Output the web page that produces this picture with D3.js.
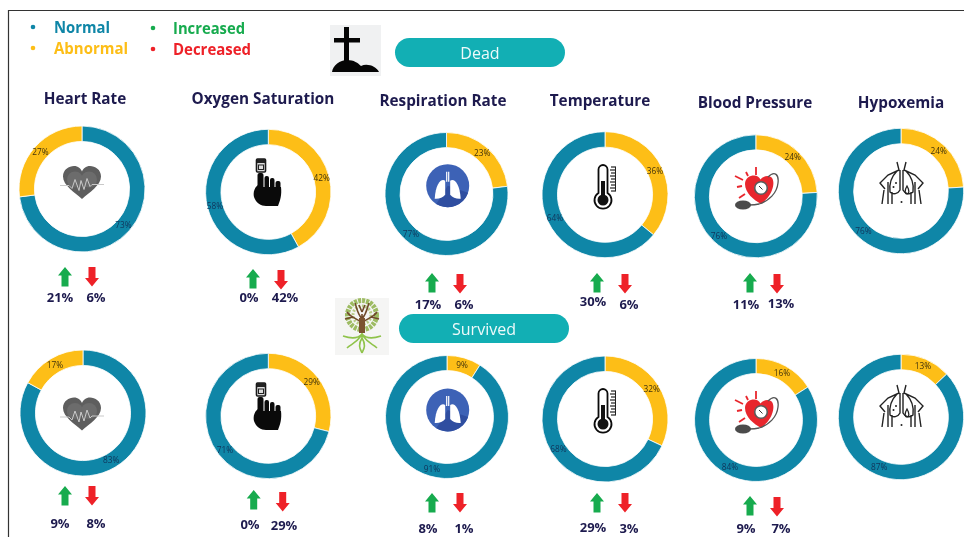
<!DOCTYPE html>
<html><head><meta charset="utf-8">
<script src="https://cdn.jsdelivr.net/npm/d3@7"></script>
<style>
html,body{margin:0;padding:0;background:#fff;overflow:hidden}
svg{display:block;filter:blur(0.35px)}
text{font-family:"Open Sans","Noto Sans",sans-serif}
</style></head><body>
<script>
// ---------- data ----------
const metrics = ["Heart Rate","Oxygen Saturation","Respiration Rate","Temperature","Blood Pressure","Hypoxemia"];
const deadNormal = [73,58,77,64,76,76];
const deadAbnormal = [27,42,23,36,24,24];
const survivedNormal = [83,71,91,68,84,87];
const survivedAbnormal = [17,29,9,32,16,13];
const deadIncreased = [21,0,17,30,11];
const deadDecreased = [6,42,6,6,13];
const survivedIncreased = [9,0,8,29,9];
const survivedDecreased = [8,29,1,3,7];
const legendA = ["Normal","Abnormal"];
const legendB = ["Increased","Decreased"];
const groups = ["Dead","Survived"];

// ---------- layout (separate from the values) ----------
const W=964,H=537;
const colors={normal:"#0f86a7",abnormal:"#fdbe17",inc:"#17ab4e",dec:"#ee2128",navy:"#1d1a4e",pill:"#12afb4"};
const titleX=[85,263,443,600,755,901], titleY=[99,99,101,101,103,103];
const ringCx=[[82,268.3,446.5,605,755.8,901],[83,268.3,447,605,756,901]];
const ringCy=[[189,192,194,194.7,196.3,191],[413,416,417,419,420,417]];
const ringR=[63,62.7,61.5,63,61.5,62.7];
const upX=[[65,253,432,597,750],[65,253.7,432,597,750]];
const downX=[[92,281,460,625,777],[92,282.7,460,625,777]];
const upY=[[267,269,273,273,273],[486,490,493,493,496]];
const downY=[[267,270,274,274,274],[486,492,493,493,497]];
const incX=[[60,249,428,593,746],[60,250,428,593,746]];
const decX=[[96,285,464,629,781],[96,284,464,629,781]];
const incY=[[297,297,304,301,304],[523,524,528.5,527,528.5]];
const decY=[[297,297,304,304,303],[523,525,528.5,528.5,528.5]];
const iconY=[[182.5,159,185.7,165,167,162],[414,383,410,389,391,385]];
const iconX=[82,253,447.7,595,735,880];

const svg=d3.select("body").append("svg").attr("width",W).attr("height",H);
svg.append("rect").attr("width",W).attr("height",H).attr("fill","#fff");
svg.append("path").attr("d",d3.line()([[W,10.5],[8.5,10.5],[8.5,H]])).attr("fill","none").attr("stroke","#333").attr("stroke-width",1.2);

// ---------- legend ----------
const legendWidths={Normal:56,Abnormal:74,Increased:72,Decreased:78};
function legend(items,xDot,xText,ys,cols){
  items.forEach((t,i)=>{
    svg.append("circle").attr("cx",xDot).attr("cy",ys[i]).attr("r",2.3).attr("fill",cols[i]);
    svg.append("text").attr("x",xText).attr("y",ys[i]).attr("dy","0.35em").attr("font-size",16).attr("font-weight",700)
      .attr("textLength",legendWidths[t]).attr("lengthAdjust","spacingAndGlyphs")
      .attr("fill",cols[i]).text(t);
  });
}
legend(legendA,33,54,[27,48],[colors.normal,colors.abnormal]);
legend(legendB,153,173,[28,49],[colors.inc,colors.dec]);

// ---------- group pills ----------
[[395,38],[399,314]].forEach((p,i)=>{
  svg.append("rect").attr("x",p[0]).attr("y",p[1]).attr("width",170).attr("height",29).attr("rx",14.5).attr("fill",colors.pill);
  svg.append("text").attr("x",p[0]+85).attr("y",p[1]+15).attr("dy","0.35em").attr("text-anchor","middle")
    .attr("font-size",16).attr("fill","#eefafa").text(groups[i]);
});

// ---------- titles ----------
metrics.forEach((m,i)=>{
  svg.append("text").attr("x",titleX[i]).attr("y",titleY[i]).attr("dy","0.35em").attr("text-anchor","middle")
    .attr("font-size",15.3).attr("font-weight",700).attr("fill",colors.navy).text(m);
});

// ---------- donuts ----------
const pie=d3.pie().sort(null).value(d=>d.v);
function donut(row,normal,abnormal){
  metrics.forEach((m,i)=>{
    const n={k:"normal",v:normal[i]},a={k:"abnormal",v:abnormal[i]};
    const parts=i===0?[n,a]:[a,n];
    const R=ringR[i];
    const arc=d3.arc().innerRadius(R*0.755).outerRadius(R);
    const g=svg.append("g").attr("transform",`translate(${ringCx[row][i]},${ringCy[row][i]})`);
    g.selectAll("path").data(pie(parts)).join("path").attr("d",arc)
      .attr("fill",d=>colors[d.data.k]).attr("stroke","#fff").attr("stroke-width",0.8);
    g.selectAll("text").data(pie(parts)).join("text")
      .attr("transform",d=>`translate(${arc.centroid(d)})`).attr("text-anchor","middle").attr("dy","0.35em")
      .attr("font-size",8.3).attr("fill",d=>d.data.k==="normal"?"#10345a":"#40320c").text(d=>d.data.v+"%");
  });
}
donut(0,deadNormal,deadAbnormal);
donut(1,survivedNormal,survivedAbnormal);

// ---------- arrows and their labels ----------
const arrowUp="M0,0 L7,8.5 L3.5,8.5 L3.5,19.5 L-3.5,19.5 L-3.5,8.5 L-7,8.5 Z";
const arrowDown="M-3.5,0 L3.5,0 L3.5,11 L7,11 L0,19.5 L-7,11 L-3.5,11 Z";
function arrows(row,inc,dec){
  inc.forEach((v,i)=>{
    svg.append("path").attr("d",arrowUp).attr("transform",`translate(${upX[row][i]},${upY[row][i]})`).attr("fill",colors.inc);
    svg.append("path").attr("d",arrowDown).attr("transform",`translate(${downX[row][i]},${downY[row][i]})`).attr("fill",colors.dec);
    svg.append("text").attr("x",incX[row][i]).attr("y",incY[row][i]).attr("dy","0.35em").attr("text-anchor","middle")
      .attr("font-size",13).attr("font-weight",700).attr("fill",colors.navy).text(v+"%");
    svg.append("text").attr("x",decX[row][i]).attr("y",decY[row][i]).attr("dy","0.35em").attr("text-anchor","middle")
      .attr("font-size",13).attr("font-weight",700).attr("fill",colors.navy).text(dec[i]+"%");
  });
}
arrows(0,deadIncreased,deadDecreased);
arrows(1,survivedIncreased,survivedDecreased);

// ---------- pictograms ----------
function heart(g){
  g.append("path").attr("d","M0,16.5 C-7,10 -19,3 -19,-6 C-19,-13 -13,-16.5 -8,-16.5 C-4,-16.5 -1,-14 0,-11 C1,-14 4,-16.5 8,-16.5 C13,-16.5 19,-13 19,-6 C19,3 7,10 0,16.5Z").attr("fill","#5e5e5e");
  g.append("circle").attr("cx",-7).attr("cy",-3).attr("r",8).attr("fill","#6c6c6c");
  g.append("circle").attr("cx",7).attr("cy",-3).attr("r",8).attr("fill","#6c6c6c");
  g.append("path").attr("d","M-22,3 H-13 L-10,6 L-7,-3 L-3,8 L-1,-2 L2,7 L5,-4 L8,4 L10,2 H22").attr("fill","none").attr("stroke","#c9c9c9").attr("stroke-width",1);
}
function hand(g){
  g.append("rect").attr("x",3.5).attr("y",0).attr("width",9).attr("height",13).attr("rx",1).attr("fill","#ddd").attr("stroke","#1a1a1a").attr("stroke-width",1.6);
  g.append("rect").attr("x",4).attr("y",0).attr("width",8).attr("height",4).attr("fill","#222");
  g.append("rect").attr("x",5.5).attr("y",6).attr("width",5).attr("height",4.5).attr("fill","none").attr("stroke","#222");
  [[4.5,14,6,22],[11.5,17,4.5,18],[17,19,4.5,16],[22.5,22,5,13]].forEach(r=>{
    g.append("rect").attr("x",r[0]).attr("y",r[1]).attr("width",r[2]).attr("height",r[3]).attr("rx",2).attr("fill","#0a0a0a");
  });
  g.append("path").attr("d","M5,26 C1,29 0,34 1,38 C3,44 8,47 13,47 L25,47 C27,42 29,36 28,28 L5,28Z").attr("fill","#0a0a0a");
}
function lungs(g){
  g.append("circle").attr("r",21.5).attr("fill","#3d62b6");
  g.append("path").attr("d",d3.arc().innerRadius(0).outerRadius(21.5)({startAngle:1.9,endAngle:3.7})).attr("fill","#2f4ea0");
  const L="M-2.5,-5 C-6,-8 -12,-3 -13,13 C-9,13.5 -5,12 -2.5,9 Z";
  g.append("path").attr("d",L).attr("fill","#fff");
  g.append("path").attr("d",L).attr("transform","scale(-1,1)").attr("fill","#fff");
  g.append("path").attr("d","M-1,-14 V-4 M1,-14 V-4").attr("stroke","#fff").attr("stroke-width",1.2);
}
function thermo(g){
  g.append("path").attr("d","M3.5,4.5 A4.5,4.5 0 0 1 12.5,4.5 V28 A8.5,8.5 0 1 1 3.5,28 Z").attr("fill","#fff").attr("stroke","#0b0b0b").attr("stroke-width",1.8);
  g.append("rect").attr("x",6).attr("y",16).attr("width",4).attr("height",18).attr("fill","#111");
  g.append("circle").attr("cx",8).attr("cy",35).attr("r",5.5).attr("fill","#111");
  d3.range(9).forEach(k=>g.append("line").attr("x1",k%2?15:16).attr("x2",21).attr("y1",2+k*3).attr("y2",2+k*3).attr("stroke","#222").attr("stroke-width",1.2));
  g.append("line").attr("x1",20.5).attr("x2",20.5).attr("y1",2).attr("y2",26).attr("stroke","#222").attr("stroke-width",1);
}
function bp(g){
  [[0,9,8,13],[11,5,13,9],[21,0,21,8],[2,20,7,19],[4,31,10,27]].forEach(l=>{
    g.append("line").attr("x1",l[0]).attr("y1",l[1]).attr("x2",l[2]).attr("y2",l[3]).attr("stroke","#e8262d").attr("stroke-width",1.8);
  });
  g.append("path").attr("d","M26,37 C19,33 10,26 10,17 C10,11 15,8.5 19,8.5 C22,8.5 24,10 25.5,12.5 C28,9 33,8 36,10 C39,12 39,18 37,23 C35,29 30,34 26,37Z").attr("fill","#e8262d");
  g.append("path").attr("d","M33,10 C40,3 44,8 43,16 C42,26 34,34 24,37 C20,38 17,38 14,38").attr("fill","none").attr("stroke","#555").attr("stroke-width",1.3);
  g.append("circle").attr("cx",26).attr("cy",21).attr("r",6.3).attr("fill","#fff").attr("stroke","#5a5a5a").attr("stroke-width",1.6);
  g.append("line").attr("x1",24).attr("y1",19).attr("x2",27.5).attr("y2",22.5).attr("stroke","#333").attr("stroke-width",1);
  g.append("ellipse").attr("cx",8).attr("cy",38).attr("rx",8).attr("ry",4.5).attr("fill","#4b4b4b");
}
function hypox(g){
  const side="M17,0 L19,8 L8,13 L0,21 L5,27 M8,20 V42 M4,28 L2,42 M12,30 V42 M17,9 C12,14 9,22 10,30 C13,33 18,32 20,28 V8";
  g.append("path").attr("d",side).attr("fill","none").attr("stroke","#222").attr("stroke-width",1.4);
  g.append("path").attr("d",side).attr("transform","translate(43,0) scale(-1,1)").attr("fill","none").attr("stroke","#222").attr("stroke-width",1.4);
  g.append("circle").attr("cx",16).attr("cy",21).attr("r",1).attr("fill","#222");
  g.append("circle").attr("cx",13.5).attr("cy",25).attr("r",1).attr("fill","#222");
  g.append("path").attr("d","M27,24 C24,29 25,32 27,32 C29,32 30,29 27,24Z").attr("fill","none").attr("stroke","#222").attr("stroke-width",1.3);
  g.append("circle").attr("cx",21.5).attr("cy",40).attr("r",1).attr("fill","#222");
}
const iconFns=[heart,hand,lungs,thermo,bp,hypox];
[0,1].forEach(row=>iconFns.forEach((fn,i)=>{
  fn(svg.append("g").attr("transform",`translate(${iconX[i]},${iconY[row][i]})`));
}));

// cross on a mound
const cross=svg.append("g").attr("transform","translate(330,25)");
cross.append("rect").attr("width",51).attr("height",51).attr("fill","#f0f1f2");
cross.append("path").attr("d","M14,2 h5 v11 h11 v4.5 h-11 v22 h-5 v-22 h-10 v-4.5 h10 Z").attr("fill","#050505");
cross.append("path").attr("d","M2,47 C3,40 10,35 17,35 C24,35 28,38 31,41 C37,38 46,41 49,47 Z").attr("fill","#050505");

// tree of life
const tree=svg.append("g").attr("transform","translate(335,298)");
tree.append("rect").attr("width",54).attr("height",57).attr("fill","#f5f5f4");
tree.append("circle").attr("cx",27).attr("cy",17).attr("r",14.5).attr("fill","none").attr("stroke","#9dbb62").attr("stroke-width",5).attr("stroke-dasharray","3 1");
tree.append("circle").attr("cx",27).attr("cy",17).attr("r",9).attr("fill","none").attr("stroke","#b9cc88").attr("stroke-width",3).attr("stroke-dasharray","2 1.5");
tree.append("path").attr("d","M27,34 V16 M27,25 C22,20 16,20 12,14 M27,25 C32,20 38,20 42,14 M27,21 C22,15 22,10 20,5 M27,21 C32,15 32,10 34,5 M18,19 L10,21 M36,19 L44,21 M27,14 L24,7 M27,14 L30,7").attr("fill","none").attr("stroke","#6f4a2a").attr("stroke-width",1.6);
tree.append("rect").attr("x",24).attr("y",20).attr("width",6).attr("height",15).attr("fill","#7b5330");
tree.append("path").attr("d","M27,35 V42 M27,36 C22,42 14,40 8,38 M27,36 C32,42 40,40 46,38 M26,38 C20,46 16,46 12,50 M28,38 C34,46 38,46 42,50 M27,40 C22,48 26,52 27,55 M27,40 C32,48 28,52 27,55").attr("fill","none").attr("stroke","#8fc34a").attr("stroke-width",1.6);
</script>
</body></html>
